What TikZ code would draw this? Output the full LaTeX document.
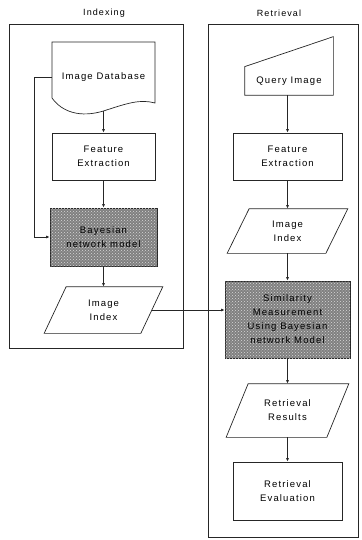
\documentclass[tikz,border=0pt]{standalone}
\usepackage{fontspec}
\setmainfont{Liberation Sans}[LetterSpace=12]
\usetikzlibrary{arrows.meta,patterns,calc}

\tikzset{
  box/.style={draw,align=center,inner sep=0pt},
  iobox/.style={align=center,inner sep=0pt},
  bnbox/.style={box,fill=black!50,postaction={pattern=crosshatch dots,pattern color=white!85!black}},
  arr/.style={-{Latex[length=3.5pt,width=3pt]}},
  frame/.style={draw,inner sep=0pt}
}

\begin{document}
\begin{tikzpicture}[x=1pt,y=-1pt,line width=0.7pt,draw=black!85,
  font=\fontsize{9.5}{14}\selectfont]
\useasboundingbox (0,0) rectangle (361,540);

% the two panels
\node[frame,minimum width=174,minimum height=324] (lframe) at (96,186) {};
\node[frame,minimum width=150,minimum height=513] (rframe) at (283,280.5) {};
\node[font=\fontsize{9}{11}\selectfont] (ltitle) at (104,13) {Indexing};
\node[font=\fontsize{9}{11}\selectfont] (rtitle) at (279,13) {Retrieval};

% indexing side
\node[iobox,minimum width=103,minimum height=68] (db) at (103.5,77) {Image Database};
\draw (52,42) -- (155,42) -- (155,103)
  .. controls (140,99) and (128,103) .. (103.5,111)
  .. controls (80,118) and (62,112) .. (52,98) -- cycle;
\node[box,minimum width=103,minimum height=47] (fe1) at (103.5,156.5) {Feature\\Extraction};
\node[bnbox,minimum width=107,minimum height=58] (bn) at (103.5,237) {Bayesian\\network model};
\node[iobox,minimum width=96,minimum height=46] (lidx) at (103.5,310) {Image\\Index};

% retrieval side
\node[iobox,minimum width=88,minimum height=28] (qi) at (289,81) {Query Image};
\draw (qi.south west) -- (qi.north west) -- ($(qi.north east)+(0,-30)$) -- (qi.south east) -- cycle;
\node[box,minimum width=109,minimum height=47] (fe2) at (287.5,156.5) {Feature\\Extraction};
\node[iobox,minimum width=98,minimum height=44] (ridx) at (287.5,231) {Image\\Index};
\node[bnbox,minimum width=125,minimum height=77] (sim) at (287.5,319.5) {Similarity\\Measurement\\Using Bayesian\\network Model};
\node[iobox,minimum width=100,minimum height=53] (res) at (287.5,410.5) {Retrieval\\Results};
\node[box,minimum width=109,minimum height=58] (eval) at (287.5,491) {Retrieval\\Evaluation};

\foreach \n in {lidx,ridx,res}
  \draw ($(\n.south west)+(-11,0)$) -- ($(\n.north west)+(11,0)$)
    -- ($(\n.north east)+(11,0)$) -- ($(\n.south east)+(-11,0)$) -- cycle;

% connectors
\draw[arr] (db.south) -- (fe1.north);
\draw[arr] (fe1) -- (bn);
\draw[arr] (bn) -- (lidx);
\draw[arr] (db.west) -- ++(-17,0) |- (bn.west);
\draw[arr] (fe2.north |- qi.south) -- (fe2.north);
\draw[arr] (fe2) -- (ridx);
\draw[arr] (ridx) -- (sim);
\draw[arr] (sim) -- (res);
\draw[arr] (res) -- (eval);
\draw[arr] (lidx.east) -- (lidx.east -| sim.west);
\end{tikzpicture}
\end{document}
